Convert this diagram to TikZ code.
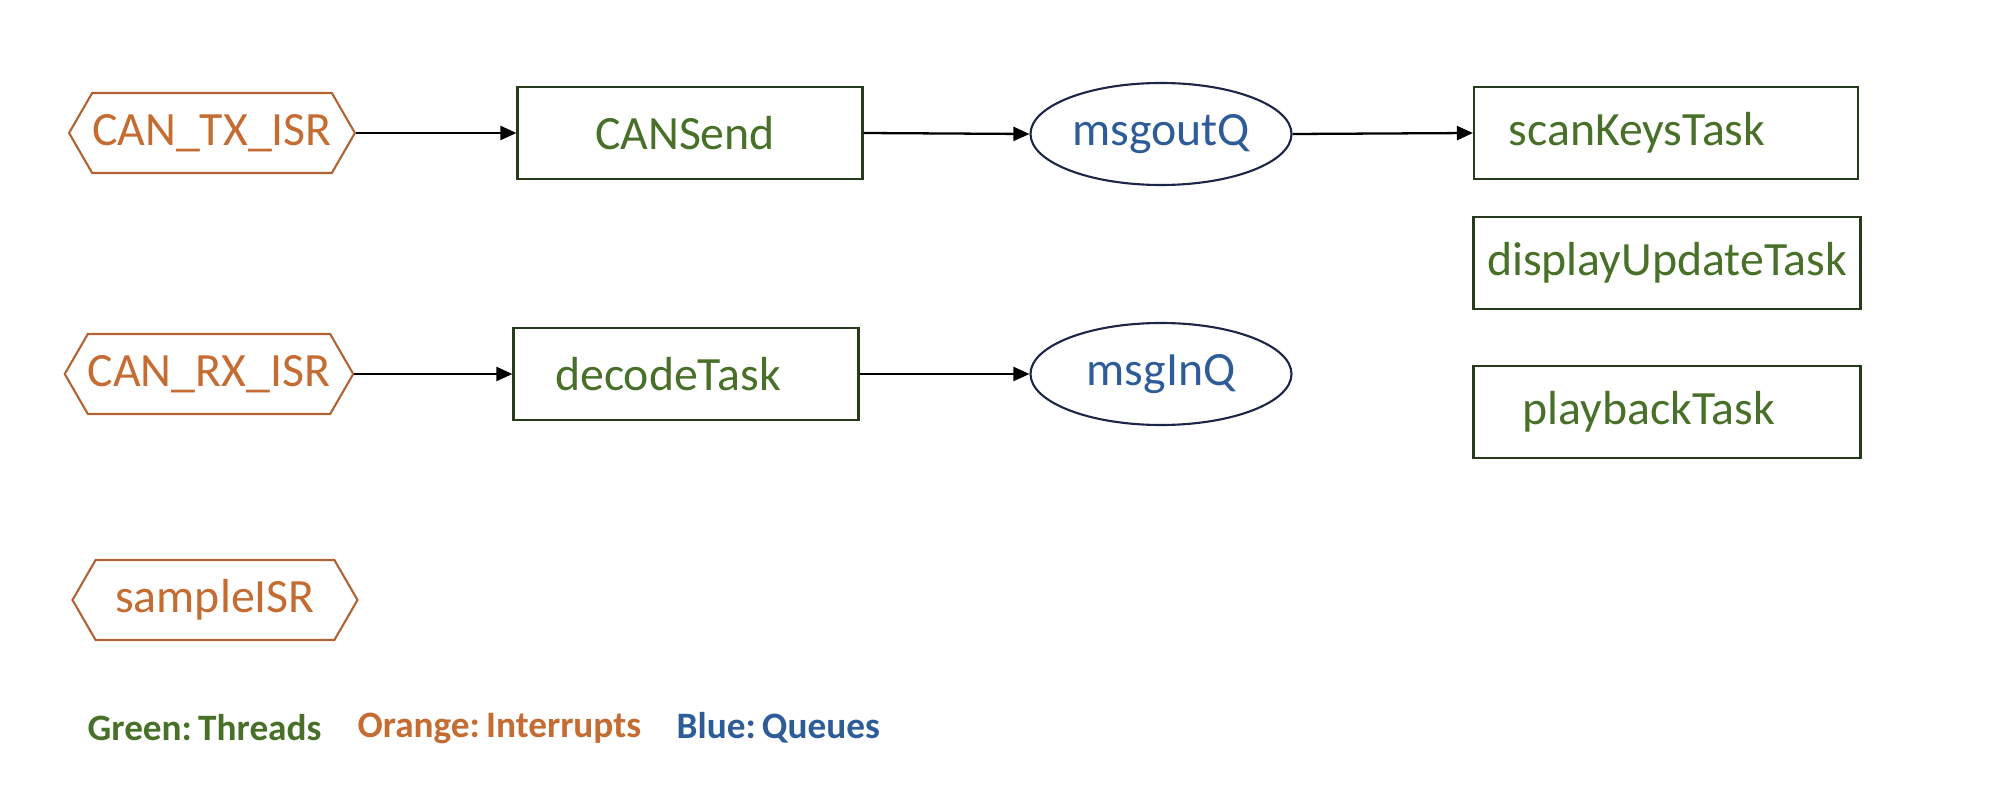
\documentclass[tikz,border=0pt]{standalone}
\usepackage{fontspec}
\setmainfont{Carlito}
\usetikzlibrary{shapes.geometric, shapes.symbols, arrows.meta}
\definecolor{thrgreen}{RGB}{72,112,40}
\definecolor{intorange}{RGB}{196,108,50}
\definecolor{qblue}{RGB}{46,92,152}
\definecolor{hexedge}{RGB}{176,100,52}
\definecolor{boxedge}{RGB}{38,58,28}
\definecolor{elledge}{RGB}{28,38,70}
\tikzstyle{arrow} = [line width=0.65pt,->,>={Triangle[length=1.6mm,width=1.4mm]}]

\begin{document}
\begin{tikzpicture}
        [
            isr/.style={signal, signal to=west and east, signal pointer angle=120,
                draw=hexedge, line width=0.6pt, text=intorange, inner sep=0pt,
                minimum width=2.85cm, minimum height=0.8cm, font=\fontsize{13.6}{16}\selectfont},
            task/.style={rectangle, draw=boxedge, line width=0.6pt, text=thrgreen,
                minimum width=3.45cm, minimum height=0.92cm, font=\fontsize{13.6}{16}\selectfont},
            queue/.style={ellipse, draw=elledge, line width=0.6pt, text=qblue, inner sep=0pt,
                minimum width=2.61cm, minimum height=1.02cm, font=\fontsize{13.6}{16}\selectfont},
            textleft/.style={execute at end node=\hspace*{#1}},
            legend/.style={anchor=west, inner sep=0pt, font=\fontsize{10.6}{13}\selectfont\bfseries},
        ]
    \useasboundingbox (0,0) rectangle (20,7.99);

    % interrupts
    \node[isr] (txisr) at (2.12,6.66) {CAN\_TX\_ISR};
    \node[isr] (rxisr) at (2.09,4.25) {CAN\_RX\_ISR};
    \node[isr] (sampleisr) at (2.15,1.99) {sampleISR};

    % threads
    \node[task, textleft=0.1cm] (cansend) at (6.90,6.66) {CANSend};
    \node[task, textleft=0.36cm] (decode) at (6.86,4.25) {decodeTask};
    \node[task, textleft=0.58cm, minimum width=3.84cm] (scankeys) at (16.66,6.66) {scanKeysTask};
    \node[task, minimum width=3.87cm] (dispupdate) at (16.67,5.36) {displayUpdateTask};
    \node[task, textleft=0.36cm, minimum width=3.87cm] (playback) at (16.67,3.87) {playbackTask};

    % queues
    \node[queue] (msgout) at (11.61,6.65) {msgoutQ};
    \node[queue] (msgin) at (11.61,4.25) {msgInQ};

    \draw[arrow] (txisr.east) -- (cansend.west);
    \draw[arrow] (cansend.east) -- (msgout.west);
    \draw[arrow] (msgout.east) -- (scankeys.west);
    \draw[arrow] (rxisr.east) -- (decode.west);
    \draw[arrow] (decode.east) -- (msgin.west);

    % legend
    \node[legend, text=thrgreen] (lgreen) at (0.87,0.71) {Green:\,Threads};
    \node[legend, text=intorange] (lorange) at (3.57,0.71) {Orange:\,Interrupts};
    \node[legend, text=qblue] (lblue) at (6.76,0.71) {Blue:\,Queues};
\end{tikzpicture}
\end{document}
